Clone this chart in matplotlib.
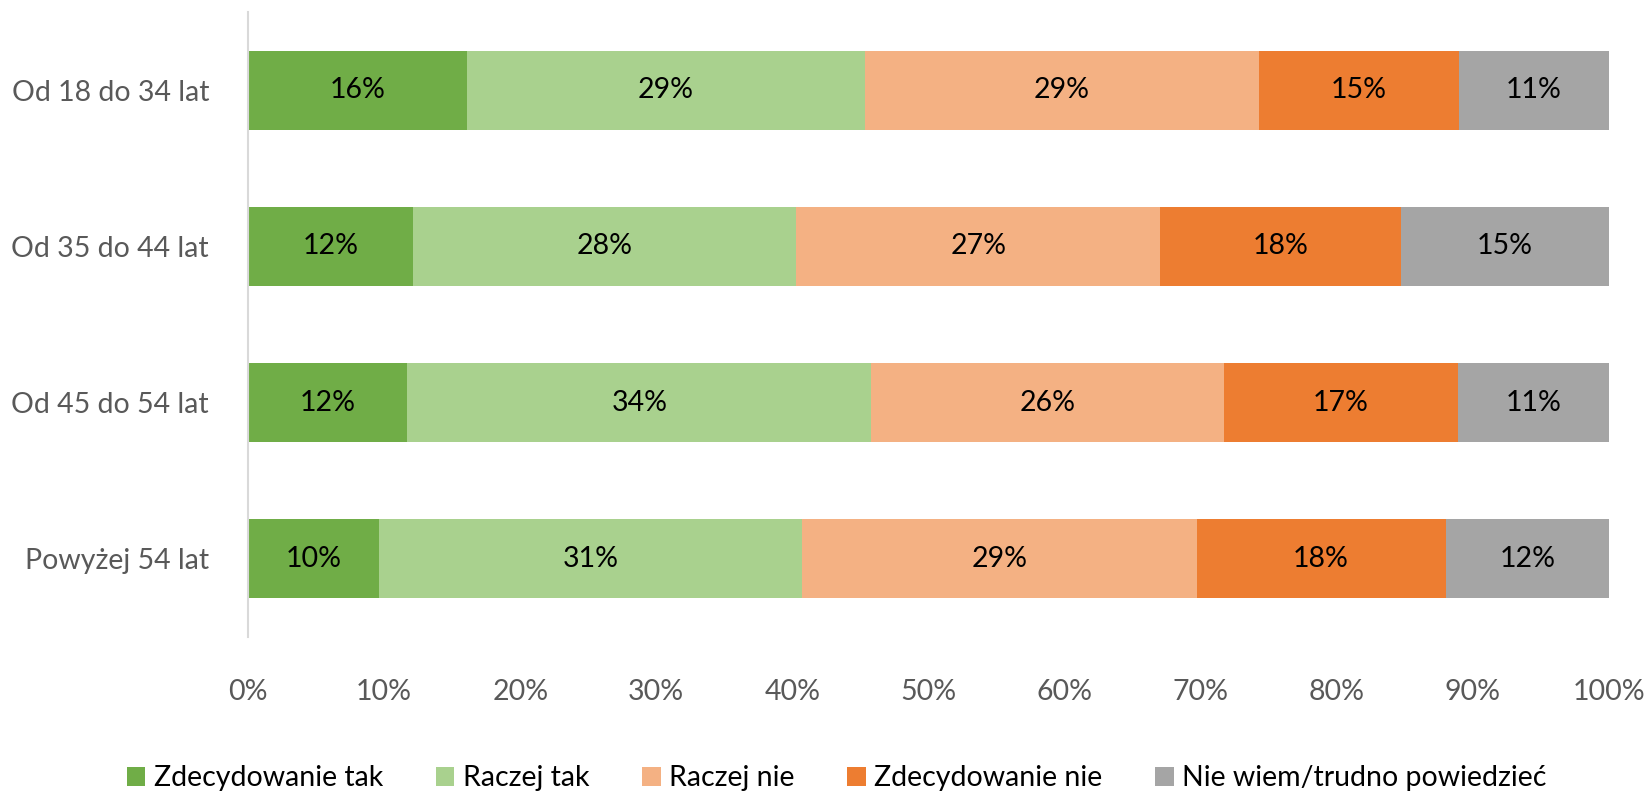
import matplotlib
matplotlib.use("Agg")
import matplotlib.pyplot as plt
import numpy as np

categories = ["Od 18 do 34 lat", "Od 35 do 44 lat", "Od 45 do 54 lat", "Powyżej 54 lat"]
series_names = ["Zdecydowanie tak", "Raczej tak", "Raczej nie", "Zdecydowanie nie", "Nie wiem/trudno powiedzieć"]
zdecydowanie_tak = [16.1, 12.1, 11.7, 9.6]
raczej_tak = [29.2, 28.2, 34.1, 31.1]
raczej_nie = [29.0, 26.7, 25.9, 29.0]
zdecydowanie_nie = [14.7, 17.7, 17.2, 18.3]
nie_wiem = [11.0, 15.3, 11.1, 12.0]
labels = [
    ["16%", "12%", "12%", "10%"],
    ["29%", "28%", "34%", "31%"],
    ["29%", "27%", "26%", "29%"],
    ["15%", "18%", "17%", "18%"],
    ["11%", "15%", "11%", "12%"],
]
xticks = [0, 10, 20, 30, 40, 50, 60, 70, 80, 90, 100]

colors = ["#70AD47", "#A9D18E", "#F4B183", "#ED7D31", "#A5A5A5"]

plt.rcParams['font.family'] = ['Lato', 'DejaVu Sans']

fig = plt.figure(figsize=(16.49, 7.94), dpi=100)
ax = fig.add_axes([0.1504, 0.1977, 0.8253, 0.7873])

data = [zdecydowanie_tak, raczej_tak, raczej_nie, zdecydowanie_nie, nie_wiem]
y = np.arange(len(categories))
left = np.zeros(len(categories))
for vals, name, col, labs in zip(data, series_names, colors, labels):
    vals = np.array(vals)
    ax.barh(y, vals, left=left, height=0.505, color=col, label=name)
    for yi, l, v, t in zip(y, left, vals, labs):
        ax.text(l + v / 2, yi, t, ha="center", va="center", fontsize=20.5, color="black")
    left = left + vals

ax.set_xlim(0, 100)
ax.set_ylim(3.5, -0.5)
ax.set_yticks(y)
ax.set_yticklabels(categories, fontsize=20.5, color="#595959")
ax.set_xticks(xticks)
ax.set_xticklabels([f"{t}%" for t in xticks], fontsize=20.5, color="#595959")
ax.tick_params(axis="both", length=0)
ax.tick_params(axis="y", pad=28)
ax.tick_params(axis="x", pad=30)
for s in ["top", "right", "bottom"]:
    ax.spines[s].set_visible(False)
ax.spines["left"].set_color("#D9D9D9")
ax.spines["left"].set_linewidth(1.5)

fig.legend(loc="center", bbox_to_anchor=(0.5075, 0.02), ncol=5, frameon=False,
           fontsize=20.5, handlelength=0.65, handleheight=0.65, handletextpad=0.3,
           columnspacing=1.85)

fig.savefig("out.png", dpi=100)
